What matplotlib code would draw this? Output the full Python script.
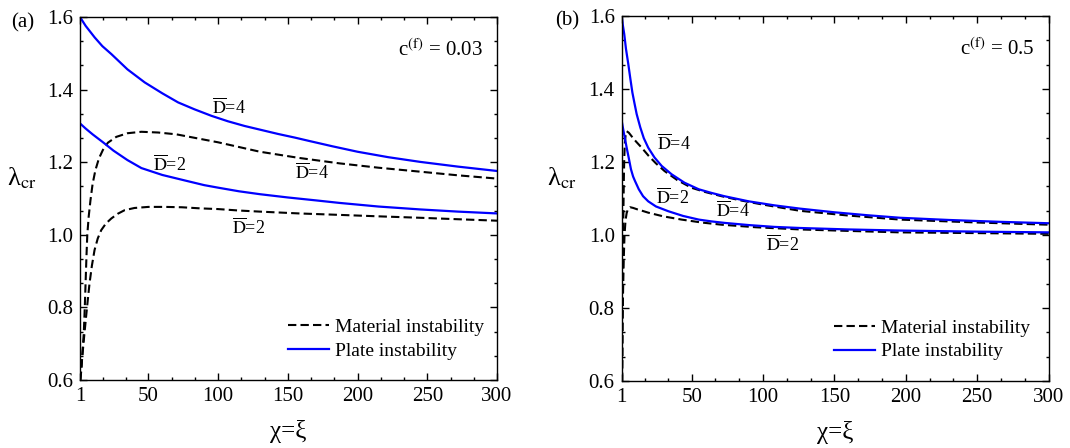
import matplotlib
matplotlib.use("Agg")
import matplotlib.pyplot as plt
from matplotlib.lines import Line2D
from matplotlib.ticker import FixedLocator

plt.rcParams['font.family'] = ['Liberation Serif', 'DejaVu Serif']
plt.rcParams['mathtext.fontset'] = 'stix'

# ---------------- data: panel (a), c(f) = 0.03 ----------------
a_mat4_x = [1.2, 2, 2.8, 3.7, 4.4, 5, 5.6, 6.2, 7.2, 8.5, 10, 12, 14.5, 17.4, 21, 27, 35, 45, 57, 70,
            85, 100, 115, 130, 158, 187, 215, 245, 272, 300]
a_mat4_y = [0.6, 0.63, 0.68, 0.73, 0.80, 0.87, 0.94, 1.0, 1.05, 1.096, 1.14, 1.178, 1.21, 1.234, 1.254,
            1.270, 1.280, 1.284, 1.282, 1.277, 1.266, 1.255, 1.242, 1.229, 1.212, 1.197, 1.185, 1.174,
            1.164, 1.155]
a_mat2_x = [1.2, 2.5, 4.2, 6, 7.8, 9.5, 11.4, 13.7, 16.2, 19.5, 23.4, 28, 33, 40, 50, 62, 74, 87, 100,
            115, 130, 158, 187, 215, 245, 272, 300]
a_mat2_y = [0.6, 0.66, 0.73, 0.80, 0.866, 0.915, 0.958, 0.99, 1.013, 1.031, 1.045, 1.058, 1.068, 1.074,
            1.077, 1.077, 1.076, 1.073, 1.071, 1.067, 1.064, 1.059, 1.055, 1.051, 1.047, 1.043, 1.039]
a_pl4_x = [1, 5, 11.5, 17, 23.5, 35, 47.4, 60, 71.3, 83, 95.2, 107, 119, 131, 143, 155, 165, 182, 200,
           222, 245, 272, 300]
a_pl4_y = [1.600, 1.576, 1.544, 1.520, 1.498, 1.456, 1.420, 1.390, 1.365, 1.346, 1.328, 1.313, 1.300,
           1.289, 1.278, 1.268, 1.259, 1.244, 1.229, 1.214, 1.201, 1.188, 1.176]
a_pl2_x = [1, 5, 10, 17.5, 25, 35, 45, 60, 76, 90, 100, 115, 130, 150, 170, 187, 215, 245, 272, 300]
a_pl2_y = [1.307, 1.293, 1.277, 1.255, 1.232, 1.206, 1.184, 1.165, 1.150, 1.137, 1.130, 1.120, 1.112,
           1.103, 1.095, 1.088, 1.078, 1.070, 1.064, 1.059]

# ---------------- data: panel (b), c(f) = 0.5 ----------------
b_mat4_x = [1.3, 1.5, 1.8, 2.1, 2.5, 2.8, 3.2, 3.8, 4.5, 6, 8, 11, 15, 20, 25, 31, 40, 50, 60, 71, 85,
            100, 126, 160, 196, 250, 300]
b_mat4_y = [0.6, 0.75, 0.9, 1.03, 1.148, 1.21, 1.25, 1.275, 1.284, 1.28, 1.27, 1.256, 1.239, 1.216,
            1.196, 1.175, 1.150, 1.129, 1.117, 1.106, 1.094, 1.083, 1.066, 1.053, 1.042, 1.034, 1.028]
b_mat2_x = [1.3, 1.6, 2, 2.5, 3, 3.7, 4.5, 5.5, 6.8, 9, 12, 15.5, 19.6, 30, 43, 57, 71, 95, 126, 160,
            196, 250, 300]
b_mat2_y = [0.6, 0.75, 0.85, 0.94, 1.0, 1.04, 1.06, 1.072, 1.076, 1.074, 1.07, 1.066, 1.061, 1.051,
            1.042, 1.034, 1.028, 1.021, 1.015, 1.011, 1.007, 1.005, 1.003]
b_pl4_x = [1, 1.8, 2.8, 4, 5.6, 7, 8.5, 10, 11.5, 14, 16.5, 19.6, 24, 29, 36, 45, 55, 64, 73, 90, 108,
           126, 150, 173, 196, 230, 265, 300]
b_pl4_y = [1.600, 1.575, 1.55, 1.51, 1.469, 1.43, 1.39, 1.36, 1.331, 1.295, 1.265, 1.239, 1.212, 1.189,
           1.166, 1.143, 1.125, 1.115, 1.106, 1.092, 1.081, 1.072, 1.062, 1.054, 1.047, 1.041, 1.036,
           1.032]
b_pl2_x = [1, 1.8, 2.5, 3.5, 4.5, 6, 7.5, 9, 10.3, 13, 16, 19.6, 25, 33.6, 44, 55, 64, 73, 90, 108,
           126, 160, 196, 250, 300]
b_pl2_y = [1.313, 1.295, 1.28, 1.26, 1.239, 1.21, 1.18, 1.16, 1.148, 1.125, 1.106, 1.092, 1.078, 1.065,
           1.052, 1.042, 1.037, 1.033, 1.027, 1.022, 1.019, 1.015, 1.012, 1.009, 1.007]

x_ticks = [1, 50, 100, 150, 200, 250, 300]
x_tick_labels = ['1', '50', '100', '150', '200', '250', '300']
y_ticks = [0.6, 0.8, 1.0, 1.2, 1.4, 1.6]
y_tick_labels = ['0.6', '0.8', '1.0', '1.2', '1.4', '1.6']

panel_tags = ['(a)', '(b)']
cf_labels = [r'c$^{\rm (f)}$ = 0.03', r'c$^{\rm (f)}$ = 0.5']
legend_labels = ['Material instability', 'Plate instability']
dbar4 = r'$\overline{\rm D}$=4'
dbar2 = r'$\overline{\rm D}$=2'

BLUE = '#0000FF'

fig = plt.figure(figsize=(10.7, 4.48), dpi=100)
ax_a = fig.add_axes([0.0748, 0.1518, 0.3897, 0.810])
ax_b = fig.add_axes([0.581, 0.1496, 0.399, 0.815])

panels = [
    (ax_a, (a_mat4_x, a_mat4_y), (a_mat2_x, a_mat2_y), (a_pl4_x, a_pl4_y), (a_pl2_x, a_pl2_y)),
    (ax_b, (b_mat4_x, b_mat4_y), (b_mat2_x, b_mat2_y), (b_pl4_x, b_pl4_y), (b_pl2_x, b_pl2_y)),
]

minor_x = []
for i in range(len(x_ticks) - 1):
    a0, a1 = x_ticks[i], x_ticks[i + 1]
    minor_x += [a0 + (a1 - a0) / 3, a0 + 2 * (a1 - a0) / 3]
minor_y = []
for i in range(len(y_ticks) - 1):
    a0, a1 = y_ticks[i], y_ticks[i + 1]
    minor_y += [a0 + (a1 - a0) / 3, a0 + 2 * (a1 - a0) / 3]

for k, (ax, m4, m2, p4, p2) in enumerate(panels):
    dash = dict(color='black', lw=1.5, linestyle=(0, (4, 2)))
    ax.plot(m4[0], m4[1], **dash)
    ax.plot(m2[0], m2[1], **dash)
    ax.plot(p4[0], p4[1], color=BLUE, lw=1.6)
    ax.plot(p2[0], p2[1], color=BLUE, lw=1.6)
    ax.set_xlim(1, 300)
    ax.set_ylim(0.6, 1.6)
    ax.set_xticks(x_ticks)
    ax.set_xticklabels(x_tick_labels)
    ax.set_yticks(y_ticks)
    ax.set_yticklabels(y_tick_labels)
    ax.xaxis.set_minor_locator(FixedLocator(minor_x))
    ax.yaxis.set_minor_locator(FixedLocator(minor_y))
    ax.tick_params(which='both', direction='in', top=True, right=True, labelsize=15, width=1.0)
    ax.tick_params(which='major', length=5, pad=5)
    ax.tick_params(which='minor', length=2.5)
    for s in ax.spines.values():
        s.set_linewidth(1.0)
    ax.set_xlabel('χ=ξ', fontsize=18, labelpad=10)
    ax.set_ylabel('λ$_{\\rm cr}$', fontsize=19, rotation=0)
    ax.yaxis.set_label_coords(-0.14, 0.52)
    ax.text(0.967, 0.91, cf_labels[k], transform=ax.transAxes, ha='right', va='center', fontsize=15)
    handles = [Line2D([], [], **dash), Line2D([], [], color=BLUE, lw=1.6)]
    ax.legend(handles, legend_labels, loc='lower left', bbox_to_anchor=(0.48, 0.035),
              frameon=False, fontsize=14, handlelength=2.1, handletextpad=0.3,
              labelspacing=0.3, borderaxespad=0)

ax_a.text(-0.138, 0.985, panel_tags[0], transform=ax_a.transAxes, fontsize=15, ha='center', va='center')
ax_b.text(-0.128, 0.985, panel_tags[1], transform=ax_b.transAxes, fontsize=15, ha='center', va='center')

fs_d = 13
ax_a.text(108, 1.349, dbar4, fontsize=fs_d, ha='center', va='center')
ax_a.text(65, 1.192, dbar2, fontsize=fs_d, ha='center', va='center')
ax_a.text(167, 1.171, dbar4, fontsize=fs_d, ha='center', va='center')
ax_a.text(121.5, 1.02, dbar2, fontsize=fs_d, ha='center', va='center')

ax_b.text(37.8, 1.251, dbar4, fontsize=fs_d, ha='center', va='center')
ax_b.text(36.4, 1.102, dbar2, fontsize=fs_d, ha='center', va='center')
ax_b.text(78.7, 1.065, dbar4, fontsize=fs_d, ha='center', va='center')
ax_b.text(114, 0.973, dbar2, fontsize=fs_d, ha='center', va='center')

fig.savefig('out.png', dpi=100)
